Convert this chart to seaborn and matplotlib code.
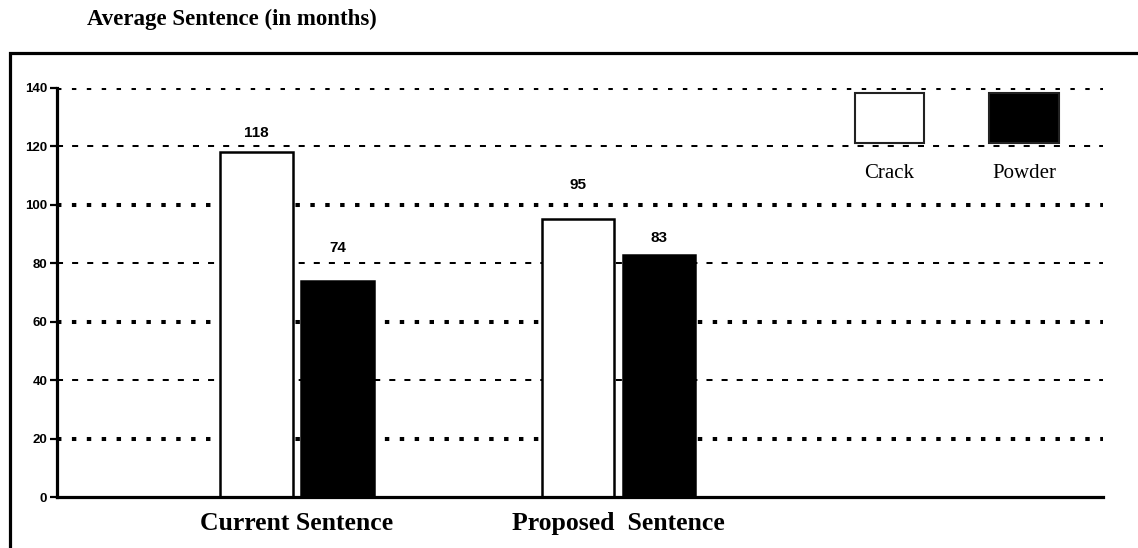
import matplotlib
matplotlib.use("Agg")
import matplotlib.pyplot as plt
import matplotlib.patches as mpatches
import seaborn as sns
import pandas as pd

# Data
periods = ["Current Sentence", "Proposed  Sentence"]
crack = [118, 95]
powder = [74, 83]
drugs = ["Crack", "Powder"]
y_ticks = [0, 20, 40, 60, 80, 100, 120, 140]

df = pd.DataFrame({
    "period": periods * 2,
    "drug": [drugs[0]] * len(periods) + [drugs[1]] * len(periods),
    "months": crack + powder,
})

sns.set_style("white")
plt.rcParams["font.family"] = ["Liberation Sans", "DejaVu Sans"]
plt.rcParams["text.color"] = "black"
plt.rcParams["xtick.color"] = "black"
plt.rcParams["ytick.color"] = "black"

W, H = 1138, 548
fig = plt.figure(figsize=(W / 100, H / 100), dpi=100)
ax = fig.add_axes([57 / W, 1 - 497 / H, (1103 - 57) / W, (497 - 88) / H])

sns.barplot(data=df, x="period", y="months", hue="drug",
            palette=["white", "black"], saturation=1,
            width=0.504, gap=0.1, edgecolor="black", linewidth=1.8,
            legend=False, ax=ax, zorder=3)

ax.set_xlim(-0.7465, 2.507)
ax.set_ylim(0, 140)

# Dotted gridlines: heavy on 140/100/60/20, light on 120/80/40
for v in [20, 60, 100, 140]:
    ax.axhline(v, color="black", lw=2.9, dashes=(1.1, 2.6), zorder=1)
for v in [40, 80, 120]:
    ax.axhline(v, color="black", lw=1.45, dashes=(3.0, 4.5), zorder=1)

# Value labels above the bars
label_offsets = [[19, 34], [33, 17]]  # pixels above bar top
for ci, cont in enumerate(ax.containers):
    for bi, bar in enumerate(cont):
        val = bar.get_height()
        ax.annotate(f"{val:.0f}",
                    (bar.get_x() + bar.get_width() / 2, val),
                    xytext=(0, label_offsets[ci][bi]), textcoords="offset pixels",
                    ha="center", va="center", fontsize=11, fontweight="bold",
                    family="Liberation Sans", color="black")

# Axes styling
for s in ["top", "right"]:
    ax.spines[s].set_visible(False)
for s in ["left", "bottom"]:
    ax.spines[s].set_linewidth(2.3)
    ax.spines[s].set_color("black")
    ax.spines[s].set_zorder(4)

ax.set_yticks(y_ticks)
ax.set_yticklabels([str(t) for t in y_ticks], fontsize=9.5, fontweight="bold")
ax.tick_params(axis="y", left=True, length=5, width=1.6, pad=2, colors="black")
ax.tick_params(axis="x", bottom=False, pad=7)
for lbl in ax.get_xticklabels():
    lbl.set_family("Liberation Serif")
    lbl.set_fontweight("bold")
    lbl.set_fontsize(18.5)
    lbl.set_color("black")
ax.set_xlabel("")
ax.set_ylabel("")

# Title
fig.text(87 / W, 1 - 19 / H, "Average Sentence (in months)", ha="left", va="center",
         family="Liberation Serif", fontweight="bold", fontsize=16.5)

# Outer frame running past the right and bottom edges
frame = mpatches.Rectangle((10 / W, -0.05), 1.05, 1 - 53 / H + 0.05,
                           transform=fig.transFigure, fill=False,
                           edgecolor="black", lw=2.3, clip_on=False)
fig.patches.append(frame)

# Legend swatches with labels underneath
swatches = [(855, 924, "white"), (989, 1059, "black")]
for (x0, x1, c), name in zip(swatches, drugs):
    r = mpatches.Rectangle((x0 / W, 1 - 143 / H), (x1 - x0) / W, 50 / H,
                           transform=fig.transFigure, facecolor=c,
                           edgecolor="#222222", lw=1.5)
    fig.patches.append(r)
    fig.text((x0 + x1) / 2 / W, 1 - 173 / H, name, ha="center", va="center",
             family="Liberation Serif", fontsize=15)

fig.savefig("out.png", dpi=100)
